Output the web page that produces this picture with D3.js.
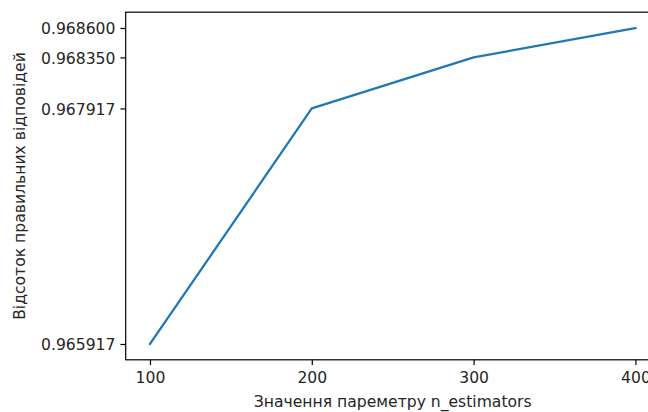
<!DOCTYPE html>
<html>
<head>
<meta charset="utf-8">
<script src="https://cdn.jsdelivr.net/npm/d3@7"></script>
<style>
html,body{margin:0;padding:0;background:#fff;}
svg{display:block;}
text{font-family:"DejaVu Sans",sans-serif;fill:#262626;}
</style>
</head>
<body>
<svg id="chart" width="648" height="412"></svg>
<script>
const nEstimators = [100, 200, 300, 400];
const accuracy = [0.965917, 0.967917, 0.968350, 0.968600];
const xTickValues = [100, 200, 300, 400];
const yTickValues = [0.965917, 0.967917, 0.968350, 0.968600];
const yTickLabels = ["0.965917", "0.967917", "0.968350", "0.968600"];
const xLabel = "Значення пареметру n_estimators";
const yLabel = "Відсоток правильних відповідей";

(function(){
const svg = d3.select("#chart");
const mLeft = 125.7, mRight = 659.7, mTop = 12.2, mBottom = 359.8;
const fs = 15.6, tickLen = 5.25, pad = 5.0;

const xMin = d3.min(nEstimators), xMax = d3.max(nEstimators);
const xm = (xMax - xMin) * 0.05;
const yMin = d3.min(accuracy), yMax = d3.max(accuracy);
const ym = (yMax - yMin) * 0.05;

const x = d3.scaleLinear().domain([xMin - xm, xMax + xm]).range([mLeft, mRight]);
const y = d3.scaleLinear().domain([yMin - ym, yMax + ym]).range([mBottom, mTop]);

const line = d3.line().x((d,i) => x(nEstimators[i])).y(d => y(d));
svg.append("path").datum(accuracy)
  .attr("d", line).attr("fill","none")
  .attr("stroke","#1f77b4").attr("stroke-width",2.25)
  .attr("stroke-linejoin","round").attr("stroke-linecap","square");

const xAxis = d3.axisBottom(x).tickValues(xTickValues).tickSize(tickLen).tickPadding(pad).tickFormat(d3.format("d"));
const gx = svg.append("g").attr("transform",`translate(0,${mBottom})`).call(xAxis);
const yAxis = d3.axisLeft(y).tickValues(yTickValues).tickSize(tickLen).tickPadding(pad)
  .tickFormat((d,i) => yTickLabels[i]);
const gy = svg.append("g").attr("transform",`translate(${mLeft},0)`).call(yAxis);

[gx, gy].forEach(g => {
  g.select(".domain").remove();
  g.selectAll(".tick line").attr("stroke","#000").attr("stroke-width",1.2);
  g.selectAll(".tick text").attr("font-size",fs).attr("font-family","DejaVu Sans").attr("fill","#262626");
});
gx.selectAll(".tick text").attr("dy", null).attr("y", 383.5 - mBottom);
gy.selectAll(".tick text").attr("dy","0.36em");

svg.append("rect").attr("x",mLeft).attr("y",mTop).attr("width",mRight-mLeft).attr("height",mBottom-mTop)
  .attr("fill","none").attr("stroke","#000").attr("stroke-width",1.2);

svg.append("text").attr("x",(mLeft+mRight)/2).attr("y",406.5).attr("text-anchor","middle")
  .attr("font-size",fs).text(xLabel);
svg.append("text").attr("transform",`translate(25,${(mTop+mBottom)/2}) rotate(-90)`)
  .attr("text-anchor","middle").attr("font-size",fs).text(yLabel);
})();
</script>
</body>
</html>
